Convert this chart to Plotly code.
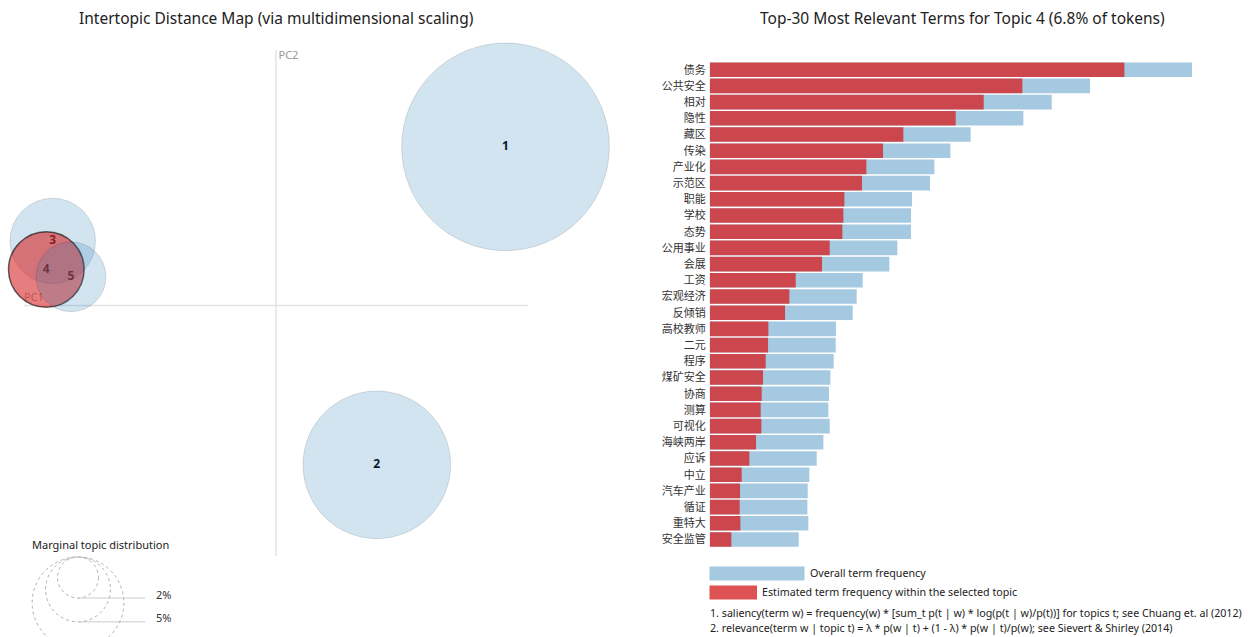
import plotly.graph_objects as go
import math

W, H = 1248, 637

# ---------------- data ----------------
topic_ids = ["1", "2", "3", "4", "5"]
topic_x = [0.3643, 0.1600, -0.3544, -0.3646, -0.3254]     # PC1
topic_y = [0.2519, -0.2529, 0.1025, 0.0571, 0.0456]       # PC2
topic_pct = [51.3, 25.9, 8.7, 6.8, 5.8]                   # % of tokens
selected_topic = "4"

legend_pcts = [2, 5, 10]
legend_labels = ["2%", "5%", "10%"]

terms = ["债务", "公共安全", "相对", "隐性", "藏区", "传染", "产业化", "示范区", "职能", "学校",
         "态势", "公用事业", "会展", "工资", "宏观经济", "反倾销", "高校教师", "二元", "程序", "煤矿安全",
         "协商", "测算", "可视化", "海峡两岸", "应诉", "中立", "汽车产业", "循证", "重特大", "安全监管"]
overall_freq = [1447, 1141, 1026, 941, 783, 722, 674, 661, 607, 604,
                604, 563, 539, 459, 441, 429, 379, 378, 372, 362,
                358, 356, 360, 341, 321, 299, 294, 293, 296, 267]
topic_freq = [1244, 938, 822, 738, 581, 520, 470, 457, 404, 401,
              398, 360, 337, 258, 239, 226, 176, 175, 168, 160,
              156, 153, 155, 139, 119, 96, 91, 90, 92, 65]

left_title = "Intertopic Distance Map (via multidimensional scaling)"
right_title = "Top-30 Most Relevant Terms for Topic 4 (6.8% of tokens)"
legend_title = "Marginal topic distribution"
bar_legend = ["Overall term frequency", "Estimated term frequency within the selected topic"]
footnotes = ["1. saliency(term w) = frequency(w) * [sum_t p(t | w) * log(p(t | w)/p(t))] for topics t; see Chuang et. al (2012)",
             "2. relevance(term w | topic t) = \u03bb * p(w | t) + (1 - \u03bb) * p(w | t)/p(w); see Sievert & Shirley (2014)"]

# ---------------- styles ----------------
BASE = "31,119,180"
HIGH = "214,39,40"
LATIN = "Noto Sans, Open Sans, sans-serif"
CJK = "Noto Sans CJK SC"
RSCALE = 14.5  # px radius per sqrt(percent)


def px_x(p):
    return p / W


def px_y(p):
    return 1 - p / H


fig = go.Figure()

XR = [-0.4, 0.4]
YR = [-0.3976, 0.4056]

# labels (beneath circles)
fig.add_trace(go.Scatter(x=topic_x, y=topic_y, mode="text", text=["<b>%s</b>" % t for t in topic_ids],
                         textfont=dict(family=LATIN, size=12, color="black"), cliponaxis=False,
                         xaxis="x", yaxis="y", hoverinfo="skip", showlegend=False))
fig.add_trace(go.Scatter(x=[XR[0], 0.004], y=[0.011, 0.395], mode="text", text=["PC1", "PC2"],
                         textposition="middle right", cliponaxis=False,
                         textfont=dict(family=LATIN, size=11, color="#999999"),
                         xaxis="x", yaxis="y", hoverinfo="skip", showlegend=False))

# circles
for tid, x, y, p in zip(topic_ids, topic_x, topic_y, topic_pct):
    sel = tid == selected_topic
    fig.add_trace(go.Scatter(
        x=[x], y=[y], mode="markers", cliponaxis=False,
        marker=dict(size=2 * RSCALE * math.sqrt(p),
                    color="rgba(%s,%s)" % (HIGH if sel else BASE, 0.6 if sel else 0.2),
                    line=dict(color="rgba(0,0,0,0.6)" if sel else "rgba(0,0,0,0.12)",
                              width=1.5 if sel else 1)),
        xaxis="x", yaxis="y", hoverinfo="skip", showlegend=False))

# bars
fig.add_trace(go.Bar(y=terms, x=overall_freq, orientation="h", width=0.9,
                     marker=dict(color="rgba(%s,0.4)" % BASE, line=dict(width=0)),
                     xaxis="x2", yaxis="y2", hoverinfo="skip", showlegend=False))
fig.add_trace(go.Bar(y=terms, x=topic_freq, orientation="h", width=0.9,
                     marker=dict(color="rgba(%s,0.8)" % HIGH, line=dict(width=0)),
                     xaxis="x2", yaxis="y2", hoverinfo="skip", showlegend=False))

shapes = []
shapes.append(dict(type="line", xref="x", yref="y", x0=0, x1=0, y0=YR[0], y1=YR[1],
                   line=dict(color="#e3e3e3", width=1.5), layer="below"))
shapes.append(dict(type="line", xref="x", yref="y", x0=XR[0], x1=XR[1], y0=0, y1=0,
                   line=dict(color="#e3e3e3", width=1.5), layer="below"))

cx, ctop, line_end = 78, 557, 145
annotations = []
for p, lab in zip(legend_pcts, legend_labels):
    r = RSCALE * math.sqrt(p)
    shapes.append(dict(type="circle", xref="paper", yref="paper",
                       x0=px_x(cx - r), x1=px_x(cx + r), y0=px_y(ctop + 2 * r), y1=px_y(ctop),
                       line=dict(color="#b0b0b0", width=1, dash="dot")))
    shapes.append(dict(type="line", xref="paper", yref="paper",
                       x0=px_x(cx), x1=px_x(line_end), y0=px_y(ctop + 2 * r), y1=px_y(ctop + 2 * r),
                       line=dict(color="#cccccc", width=1)))
    if ctop + 2 * r < H - 8:
        annotations.append(dict(x=px_x(line_end + 9), y=px_y(ctop + 2 * r - 4), xref="paper", yref="paper",
                                text=lab, showarrow=False, xanchor="left", yanchor="middle",
                                font=dict(family=LATIN, size=11, color="#333333")))

shapes.append(dict(type="rect", xref="paper", yref="paper", x0=px_x(709.5), x1=px_x(804.5),
                   y0=px_y(580.5), y1=px_y(566.5), fillcolor="rgba(%s,0.4)" % BASE, line=dict(width=0)))
shapes.append(dict(type="rect", xref="paper", yref="paper", x0=px_x(709.5), x1=px_x(757),
                   y0=px_y(599.5), y1=px_y(585.5), fillcolor="rgba(%s,0.8)" % HIGH, line=dict(width=0)))

FS = 10.7
annotations += [
    dict(x=px_x(276), y=px_y(18), text=left_title, showarrow=False, xanchor="center", yanchor="middle",
         xref="paper", yref="paper", font=dict(family=LATIN, size=15.5, color="#222222")),
    dict(x=px_x(962), y=px_y(18), text=right_title, showarrow=False, xanchor="center", yanchor="middle",
         xref="paper", yref="paper", font=dict(family=LATIN, size=15.5, color="#222222")),
    dict(x=px_x(100), y=px_y(544), text=legend_title, showarrow=False, xanchor="center", yanchor="middle",
         xref="paper", yref="paper", font=dict(family=LATIN, size=11, color="#222222")),
    dict(x=px_x(808), y=px_y(573), text=bar_legend[0], showarrow=False, xanchor="left", yanchor="middle",
         xref="paper", yref="paper", font=dict(family=LATIN, size=FS, color="#222222")),
    dict(x=px_x(760), y=px_y(591.5), text=bar_legend[1], showarrow=False, xanchor="left", yanchor="middle",
         xref="paper", yref="paper", font=dict(family=LATIN, size=FS, color="#222222")),
    dict(x=px_x(708), y=px_y(612.5), text=footnotes[0], showarrow=False, xanchor="left", yanchor="middle",
         xref="paper", yref="paper", font=dict(family=LATIN, size=FS, color="#222222")),
    dict(x=px_x(708), y=px_y(627.5), text=footnotes[1], showarrow=False, xanchor="left", yanchor="middle",
         xref="paper", yref="paper", font=dict(family=LATIN, size=FS, color="#222222")),
]

hidden = dict(showgrid=False, zeroline=False, showticklabels=False, showline=False, ticks="")

fig.update_layout(
    width=W, height=H, autosize=False,
    margin=dict(l=0, r=0, t=0, b=0, pad=0),
    paper_bgcolor="white", plot_bgcolor="white",
    barmode="overlay",
    xaxis=dict(domain=[px_x(24), px_x(528)], range=XR, fixedrange=True, **hidden),
    yaxis=dict(domain=[px_y(556), px_y(50)], range=YR, fixedrange=True, **hidden),
    xaxis2=dict(domain=[px_x(709.7), px_x(1209.7)], range=[0, 1500], anchor="y2", fixedrange=True, **hidden),
    yaxis2=dict(domain=[px_y(547.6), px_y(61.6)], anchor="x2", autorange="reversed",
                showgrid=False, zeroline=False, showline=False, ticks="", ticklabelstandoff=3,
                tickfont=dict(family=CJK, size=11, color="#333333"), fixedrange=True),
    shapes=shapes, annotations=annotations,
    font=dict(family=LATIN),
)

fig.write_html("out.html", config={"displayModeBar": False})
